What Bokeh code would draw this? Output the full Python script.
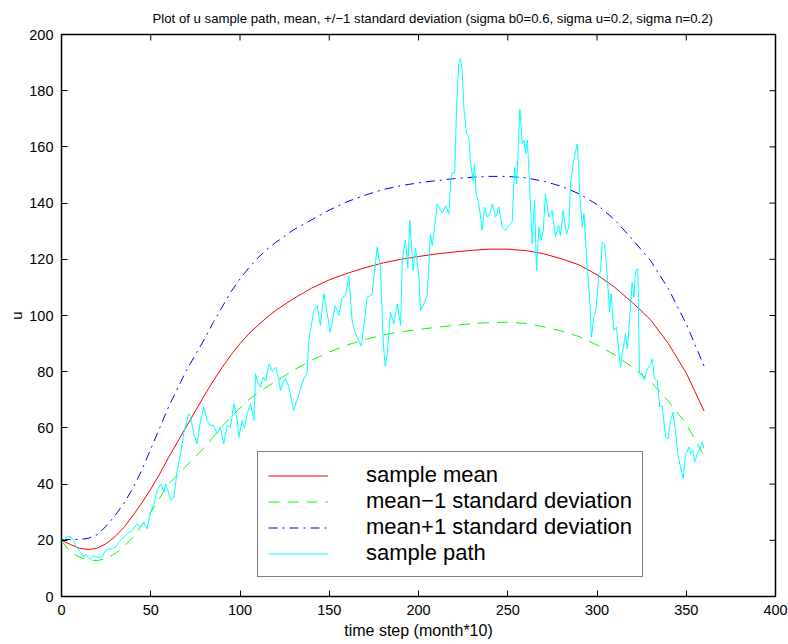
import math
from bokeh.plotting import figure
from bokeh.models import Range1d, FixedTicker, Legend, LegendItem
from bokeh.embed import file_html
from bokeh.resources import INLINE

# ---- data ----
steps = [0, 5, 10, 15, 20, 25, 30, 35, 40, 45, 50, 55, 60, 70, 80, 85, 90, 95, 100, 105,
         110, 115, 120, 130, 140, 150, 160, 170, 180, 190, 200, 210, 220, 230, 240, 250,
         260, 270, 280, 290, 300, 310, 320, 330, 340, 350, 360]
mean_u = [20, 18.5, 17.2, 16.7, 17.2, 18.8, 21.3, 24.6, 28.8, 33.3, 38.2, 43.6, 49.5, 60.5,
          71.5, 76.7, 81.5, 86, 90, 93.5, 96.5, 99.3, 101.8, 106, 109.7, 112.7, 115, 117,
          118.7, 120, 121, 121.9, 122.6, 123.2, 123.6, 123.6, 123.1, 122, 120.2, 118, 114.5,
          110, 104.5, 98.5, 90, 79.5, 66]
upper_u = [20.2, 20.3, 20.3, 20.7, 22, 25, 28.8, 33.2, 38.5, 45, 52.5, 60, 67.5, 80.5, 91.5,
           97.5, 103, 108.5, 113, 117, 120.5, 123.5, 126, 130.5, 134, 137.5, 140.5, 142.8,
           144.8, 146.2, 147.2, 148, 148.7, 149.2, 149.5, 149.5, 149, 147.8, 146, 143.3,
           139.5, 134, 127, 119.5, 109.5, 97, 82]
lower_u = [19.8, 15.8, 14, 13, 12.8, 13.5, 15.3, 17.8, 21, 25.5, 30, 35, 40, 46.5, 53, 56.8,
           60.5, 64, 67, 70, 72.5, 74.6, 76.5, 80.5, 84, 87, 89.5, 91.5, 93, 94.2, 95, 95.8,
           96.5, 97.1, 97.5, 97.6, 97.2, 96, 94.5, 92.5, 89.5, 86, 81.5, 76.5, 69.5, 61.5, 50]

path_t = [0, 1.3, 3.5, 5.5, 6.9, 8, 10.6, 12.5, 13.4, 16.2, 18, 20, 22.8, 24.6, 27.5, 30.3,
          32.1, 34, 36.8, 39.6, 42.4, 44.2, 46.1, 48, 49.9, 51.7, 53.6, 55.5, 57.4, 58.3,
          59.3, 61.1, 63, 64.8, 66.7, 68.5, 70, 71.3, 72.3, 74.1, 76, 77.9, 79.7, 81.6, 83,
          85.3, 87.2, 89, 90.9, 92.8, 94.5, 95.6, 96.5, 98.4, 99.3, 101.2, 102.5, 104, 105.9,
          107.8, 108.7, 110, 111.5, 113, 114.4, 116.2, 118.1, 120, 121.5, 122.7, 124, 125.5,
          127.4, 128.8, 130.1, 131.5, 133, 135.7, 137.6, 138.5, 139.5, 141.3, 143.2, 145,
          147, 148.7, 150.5, 153.4, 155.4, 157.2, 159.1, 161, 162.8, 164.7, 166.6, 168,
          169.5, 171.2, 174, 176.8, 178.7, 180.2, 181.3, 182.3, 184.3, 186.2, 188.1, 190,
          190.9, 192.7, 194, 195.1, 197, 198.3, 200.2, 201.1, 203, 204.9, 206.7, 207.7, 209,
          210.5, 212.3, 213.3, 215.2, 217, 218, 218.9, 220.3, 221.3, 222.6, 223.5, 224.4,
          225.4, 226.9, 228.2, 229.1, 230.5, 231.4, 232.3, 233.8, 235.7, 237, 238.5, 240,
          241.3, 243.2, 245, 246.9, 248.7, 250.6, 252.5, 253.8, 255, 256.8, 258.2, 259.1,
          260, 261, 262.4, 263.7, 265, 266.1, 267.5, 268.8, 269.9, 271.1, 273, 274.8, 276.7,
          278.6, 279.5, 281, 282.9, 284.2, 285.2, 287, 288.9, 289.5, 290.5, 291.8, 292.7,
          294.5, 296, 296.9, 298.2, 299.4, 301, 302, 302.9, 304.2, 305.7, 307, 307.9, 309.4,
          310.9, 312.2, 313.2, 314.1, 316, 317, 318.5, 319.7, 320.7, 321.6, 322.9, 323.8,
          325.3, 326.6, 327.7, 330, 330.9, 332.2, 333.7, 335.2, 336.5, 338.4, 339.7, 341.2,
          342.6, 343.9, 345.3, 346.8, 348.3, 349.6, 350.5, 351.5, 352.4, 353.7, 354.7, 356.2,
          357.7, 359, 360]
path_u = [20, 20, 21.5, 21, 20, 18, 15.8, 14, 15, 13.4, 14.5, 14, 14, 16.4, 17, 17.6,
          19.3, 20.5, 22.3, 23.5, 25.9, 24.7, 26.4, 24.1, 30, 33, 37.7, 40.1, 37.3, 40,
          38.5, 34.2, 35.4, 44.8, 50.8, 58, 62, 65, 64, 57.9, 54.3, 62.6, 67.4, 62.6, 61,
          60.9, 57.9, 60.2, 54.3, 61, 60, 64, 68.6, 63, 56.7, 62.6, 60, 65, 68.6,
          62.6, 79.3, 76, 74.5, 78, 76.5, 82.8, 80, 81.6, 78, 73.3, 76, 77.5,
          74.5, 70, 66.2, 69, 72, 77.5, 79.3, 91.1, 94.7, 101.8, 103.6, 96.5,
          107.7, 101.2, 94, 103.5, 100, 106.5, 107, 114.2, 98.2, 93.5, 91.1, 89,
          97, 106.5, 107.5, 124.3, 117, 91.1, 82, 85, 101.2, 97, 104.2, 96.4,
          119.6, 126.7, 117, 133.8, 116, 124.1, 113.9, 101.8, 104.2, 107.3, 129, 125, 131,
          139.7, 137.6, 136.4, 139, 136.2, 148, 150.8, 150.8, 174, 189.7, 191.4, 188,
          174, 164.7, 163.5, 155.2, 148, 154, 143.3, 139.7, 130.2, 138.6, 135, 136.2,
          139.7, 135, 138.6, 131.5, 130.2, 132, 133.2, 152.8, 146.8, 173.5, 161, 162.3,
          157.5, 162.3, 144.5, 125.5, 141, 116, 131.5, 126.7, 130.2, 143.3, 135, 137.4, 127.9,
          132, 128.3, 137.4, 129, 131.5, 146.9, 155.2, 161.1, 156.3, 140.9, 131.4, 136.2,
          117.2, 105.3, 92.3, 99.4, 101.8, 114.8, 115.4, 126.1, 125.5, 114.8, 101.2, 107.7, 94.7,
          95.9, 87.5, 81.6, 86.3, 93.5, 88.1, 100.6, 111.9, 106.5, 116, 116.6, 79.3,
          79.3, 76.9, 80.4, 82.8, 84.6, 77.5, 76.9, 67.4, 68, 56.7, 56.1, 62.6,
          65.6, 59, 50.8, 46, 41.9, 50.8, 51.4, 53.2, 50.8, 52, 47.8, 50.8,
          52.6, 55, 52.6]

x_ticks = [0, 50, 100, 150, 200, 250, 300, 350, 400]
y_ticks = [0, 20, 40, 60, 80, 100, 120, 140, 160, 180, 200]
x_min, x_max = 0, 400
y_min, y_max = 0, 200

title_text = ("Plot of u sample path, mean, +/\u22121 standard deviation "
              "(sigma b0=0.6, sigma u=0.2, sigma n=0.2)")
legend_labels = ["sample mean", "mean\u22121 standard deviation",
                 "mean+1 standard deviation", "sample path"]

FONT = "Liberation Sans"

p = figure(width=788, height=644, output_backend="svg", toolbar_location=None,
           x_range=Range1d(x_min, x_max), y_range=Range1d(y_min, y_max),
           min_border_left=61, min_border_right=13, min_border_top=34, min_border_bottom=48,
           title=title_text)
p.background_fill_color = "white"
p.border_fill_color = "white"
p.outline_line_color = "black"
p.outline_line_width = 1.5
p.xgrid.visible = False
p.ygrid.visible = False

p.title.text_font = FONT
p.title.text_font_size = "13.2px"
p.title.text_font_style = "normal"
p.title.text_color = "black"
p.title.align = "left"
p.title.offset = 91
p.title.vertical_align = "top"
p.title.standoff = 14

xa = p.xaxis[0]
ya = p.yaxis[0]
xa.ticker = FixedTicker(ticks=x_ticks)
ya.ticker = FixedTicker(ticks=y_ticks)
for ax in (xa, ya):
    ax.axis_line_color = None
    ax.major_tick_in = 6
    ax.major_tick_out = 0
    ax.minor_tick_line_color = None
    ax.major_tick_line_color = "black"
    ax.major_label_text_font = FONT
    ax.major_label_text_font_size = "14.5px"
    ax.major_label_text_color = "black"
    ax.axis_label_text_font = FONT
    ax.axis_label_text_font_style = "normal"
    ax.axis_label_text_color = "black"
xa.major_label_standoff = 8
ya.major_label_standoff = 8
xa.axis_label = "time step (month*10)"
ya.axis_label = "u"
xa.axis_label_text_font_size = "16px"
ya.axis_label_text_font_size = "15px"
xa.axis_label_standoff = 4
ya.axis_label_standoff = 1

# inward tick marks on the top and right edges of the box
p.scatter(x_ticks, [y_max] * len(x_ticks), marker="dash", size=12, angle=math.pi / 2,
          line_color="black", line_width=1)
p.scatter([x_max] * len(y_ticks), y_ticks, marker="dash", size=12, angle=0,
          line_color="black", line_width=1)

r_mean = p.line(steps, mean_u, line_color="#ff0000", line_width=1)
r_low = p.line(steps, lower_u, line_color="#00ff00", line_width=1, line_dash="11 8")
r_up = p.line(steps, upper_u, line_color="#0000ff", line_width=1, line_dash="9 5 2 5")
r_path = p.line(path_t, path_u, line_color="#00ffff", line_width=1)

legend = Legend(items=[LegendItem(label=legend_labels[0], renderers=[r_mean]),
                       LegendItem(label=legend_labels[1], renderers=[r_low]),
                       LegendItem(label=legend_labels[2], renderers=[r_up]),
                       LegendItem(label=legend_labels[3], renderers=[r_path])],
                location=(196, 19))
legend.label_text_font = FONT
legend.label_text_font_size = "22px"
legend.label_text_color = "black"
legend.glyph_width = 60
legend.glyph_height = 25
legend.label_height = 25
legend.label_standoff = 38
legend.padding = 10
legend.spacing = 0
legend.margin = 0
legend.border_line_color = "black"
legend.border_line_width = 1.5
legend.background_fill_color = "white"
legend.background_fill_alpha = 1
p.add_layout(legend, "center")

open("out.html", "w").write(file_html(p, INLINE))
